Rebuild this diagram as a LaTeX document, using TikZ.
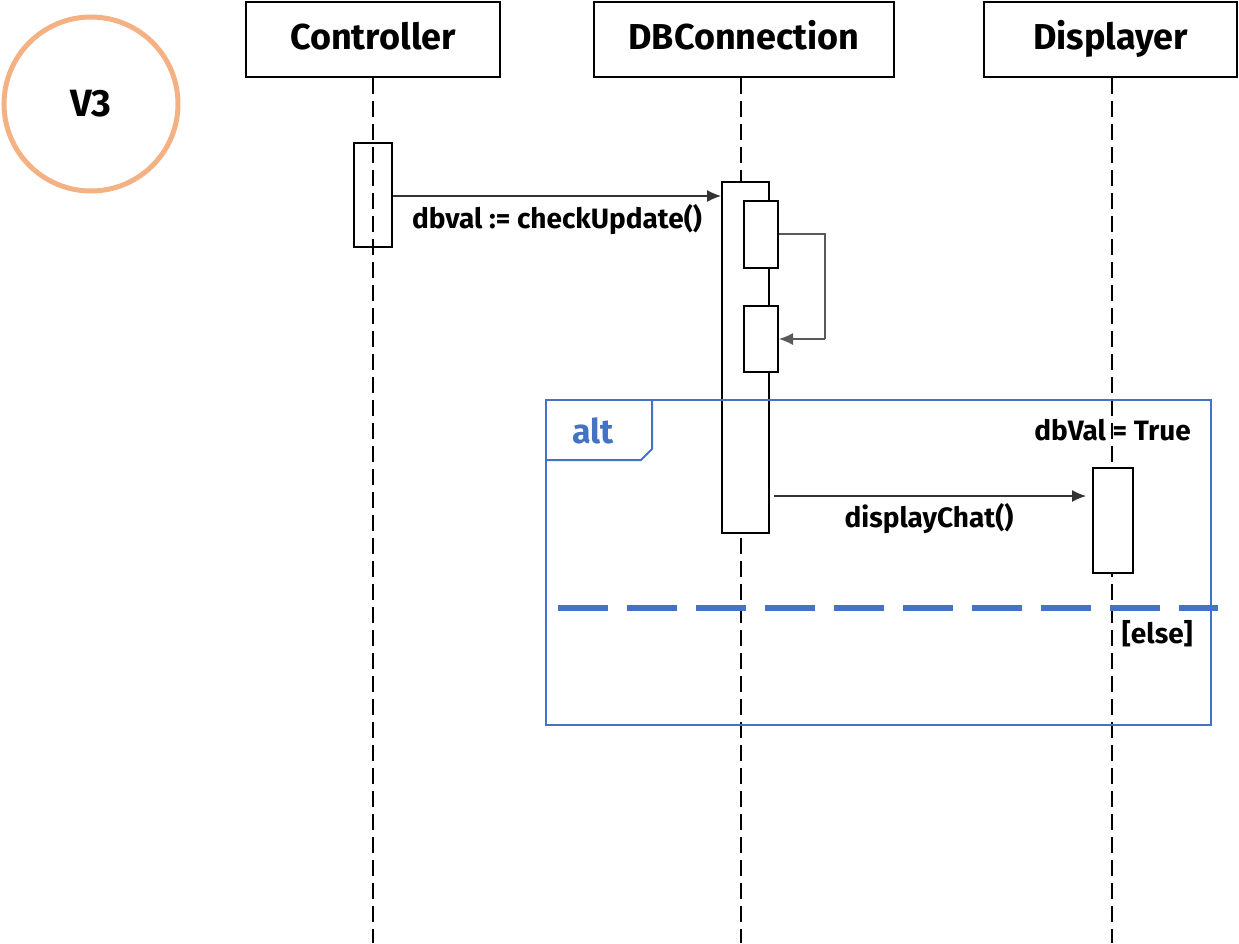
\documentclass[tikz,border=0pt]{standalone}
\usepackage{fontspec}
\setmainfont{Fira Sans}
\usetikzlibrary{arrows.meta}
\definecolor{circcol}{HTML}{F4B183}
\definecolor{altblue}{HTML}{4472C4}
\tikzset{
  hdr/.style={draw, line width=2pt, minimum height=75pt, inner sep=0pt, text height=26pt, text depth=7pt, font=\fontsize{36}{42}\selectfont\bfseries},
  life/.style={line width=2pt, dash pattern=on 16pt off 7pt},
  actbox/.style={draw, line width=2pt, inner sep=0pt},
  msg/.style={line width=1.2pt, draw=black!80, -{Latex[length=14pt,width=12pt]}},
  lbl/.style={font=\fontsize{28}{32}\selectfont\bfseries, inner sep=0pt},
}
\begin{document}
\begin{tikzpicture}[x=1pt,y=-1pt]
\useasboundingbox (0,0) rectangle (1239,943);
% V3 circle
\node[circle, draw=circcol, line width=5pt, minimum size=174pt, inner sep=0pt,
  font=\fontsize{38}{42}\selectfont\bfseries] (v3) at (91,104) {V3};
% headers
\node[hdr, minimum width=254pt] (ctrl) at (373,39.5) {Controller};
\node[hdr, minimum width=300pt] (dbc) at (744,39.5) {DBConnection};
\node[hdr, minimum width=253pt] (disp) at (1110.5,39.5) {Displayer};
\coordinate (ctrlend) at (373,943);
\coordinate (dbcend) at (741,943);
\coordinate (dispend) at (1112,943);
% lifelines
\draw[life] (ctrl.south -| ctrlend) -- (ctrlend);
\draw[life] (dbc.south -| dbcend) -- (dbcend);
\draw[life] (disp.south -| dispend) -- (dispend);
% activations
\node[actbox, minimum width=38pt, minimum height=104pt] (cact) at (373,195) {};
\node[actbox, fill=white, minimum width=47pt, minimum height=351pt] (dact) at (745.5,357.5) {};
\node[actbox, fill=white, minimum width=34pt, minimum height=67pt] (n1) at (761,234.5) {};
\node[actbox, fill=white, minimum width=34pt, minimum height=66pt] (n2) at (761,339) {};
\node[actbox, fill=white, minimum width=40pt, minimum height=105pt] (pact) at (1113,520.5) {};
% messages
\draw[msg] (cact.east |- 0,196) -- (dact.west |- 0,196);
\node[lbl] (m1) at (557,220) {dbval := checkUpdate()};
\coordinate (sc1) at (825,234);
\coordinate (sc2) at (825,339);
\draw[line width=1.2pt, draw=black!65] (n1.east |- sc1) -- (sc1) -- (sc2);
\draw[msg, draw=black!65] (sc2) -- (n2.east |- sc2);
\draw[msg] ([xshift=4pt]dact.east |- 0,496) -- ([xshift=-6pt]pact.west |- 0,496);
\node[lbl] (m2) at (929,519) {displayChat()};
% alt frame
\draw[altblue, line width=2pt] (546,400) rectangle (1211,725);
\draw[altblue, line width=2pt] (546,460) -- (641,460) -- (652,449) -- (652,400);
\node[font=\fontsize{34}{38}\selectfont\bfseries, text=altblue, inner sep=0pt] (altl) at (593,431) {alt};
\node[lbl, anchor=east] (g1) at (1191,430) {dbVal = True};
\coordinate (ds1) at (558,607.5);
\coordinate (ds2) at (1218,607.5);
\draw[altblue, line width=6pt, dash pattern=on 50pt off 19pt] (ds1) -- (ds2);
\node[lbl, anchor=east] (g2) at (1193,634) {[else]};
\end{tikzpicture}
\end{document}
